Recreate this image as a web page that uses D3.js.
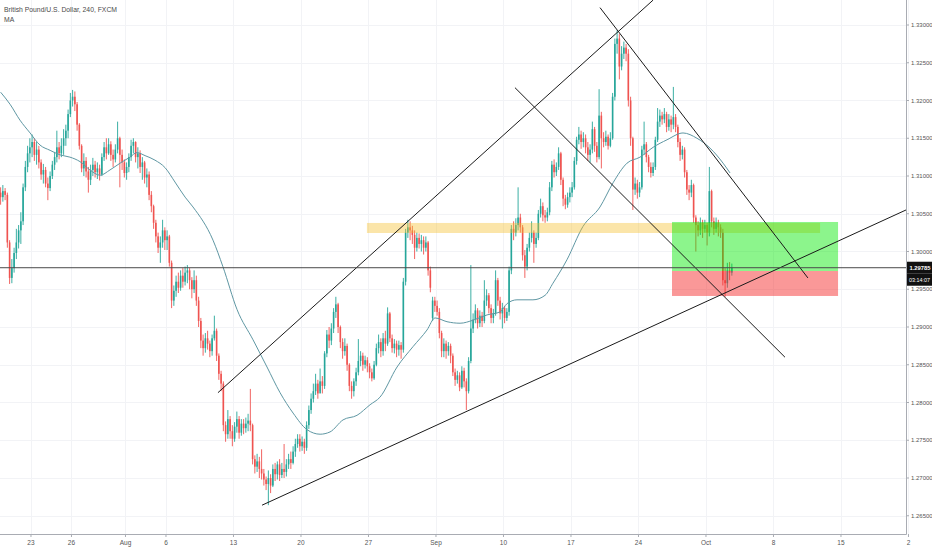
<!DOCTYPE html>
<html>
<head>
<meta charset="utf-8">
<script src="https://cdn.jsdelivr.net/npm/d3@7"></script>
<style>
  html, body { margin: 0; padding: 0; background: #fff; }
  svg { display: block; font-family: "Liberation Sans", Arial, sans-serif; }
</style>
</head>
<body>
<svg id="chart" width="932" height="550"></svg>
<script>
// GBP/USD 4h candles (bar 0 = Thu 19 Jul, 6 bars a day)
const firstOpen = 1.3078;
const closes = [
  1.3072, 1.3080, 1.3075, 1.3012, 1.2965, 1.2978, 1.2998, 1.3012, 1.3028, 1.3040, // 0
  1.3085, 1.3112, 1.3130, 1.3138, 1.3145, 1.3128, 1.3135, 1.3118, 1.3102, 1.3108, // 10
  1.3090, 1.3084, 1.3100, 1.3115, 1.3125, 1.3138, 1.3130, 1.3140, 1.3150, 1.3160, // 20
  1.3182, 1.3200, 1.3205, 1.3195, 1.3168, 1.3140, 1.3110, 1.3120, 1.3106, 1.3095, // 30
  1.3108, 1.3115, 1.3105, 1.3110, 1.3102, 1.3125, 1.3138, 1.3130, 1.3142, 1.3128, // 40
  1.3122, 1.3135, 1.3150, 1.3128, 1.3118, 1.3104, 1.3112, 1.3125, 1.3140, 1.3145, // 50
  1.3125, 1.3130, 1.3112, 1.3118, 1.3098, 1.3102, 1.3075, 1.3060, 1.3038, 1.3020, // 60
  1.3005, 1.3012, 1.3028, 1.3015, 1.3020, 1.2985, 1.2935, 1.2948, 1.2960, 1.2952, // 70
  1.2968, 1.2960, 1.2972, 1.2975, 1.2962, 1.2950, 1.2962, 1.2935, 1.2908, 1.2882, // 80
  1.2872, 1.2885, 1.2878, 1.2868, 1.2885, 1.2895, 1.2862, 1.2838, 1.2825, 1.2770, // 90
  1.2758, 1.2778, 1.2762, 1.2752, 1.2768, 1.2778, 1.2760, 1.2772, 1.2766, 1.2772, // 100
  1.2776, 1.2770, 1.2725, 1.2715, 1.2722, 1.2712, 1.2706, 1.2698, 1.2692, 1.2700, // 110
  1.2690, 1.2712, 1.2705, 1.2718, 1.2704, 1.2712, 1.2708, 1.2718, 1.2725, 1.2720, // 120
  1.2735, 1.2745, 1.2752, 1.2742, 1.2748, 1.2740, 1.2770, 1.2790, 1.2805, 1.2815, // 130
  1.2825, 1.2812, 1.2828, 1.2822, 1.2865, 1.2890, 1.2882, 1.2898, 1.2920, 1.2930, // 140
  1.2900, 1.2880, 1.2868, 1.2875, 1.2850, 1.2822, 1.2815, 1.2828, 1.2840, 1.2855, // 150
  1.2862, 1.2850, 1.2856, 1.2848, 1.2840, 1.2832, 1.2850, 1.2872, 1.2880, 1.2868, // 160
  1.2885, 1.2878, 1.2918, 1.2885, 1.2872, 1.2878, 1.2870, 1.2876, 1.2870, 1.2960, // 170
  1.3025, 1.3032, 1.3028, 1.3022, 1.3005, 1.3018, 1.3010, 1.3015, 1.3005, 1.3012, // 180
  1.2975, 1.2952, 1.2935, 1.2928, 1.2920, 1.2892, 1.2868, 1.2878, 1.2868, 1.2875, // 190
  1.2862, 1.2840, 1.2830, 1.2836, 1.2820, 1.2842, 1.2828, 1.2815, 1.2855, 1.2898, // 200
  1.2910, 1.2922, 1.2905, 1.2915, 1.2908, 1.2935, 1.2942, 1.2925, 1.2912, 1.2918, // 210
  1.2962, 1.2935, 1.2918, 1.2925, 1.2912, 1.2920, 1.2975, 1.3030, 1.3025, 1.3035, // 220
  1.3045, 1.3032, 1.2995, 1.2980, 1.3005, 1.3018, 1.3025, 1.3010, 1.3018, 1.3050, // 230
  1.3060, 1.3048, 1.3045, 1.3052, 1.3085, 1.3115, 1.3105, 1.3112, 1.3130, 1.3095, // 240
  1.3070, 1.3062, 1.3072, 1.3078, 1.3085, 1.3120, 1.3148, 1.3155, 1.3145, 1.3150, // 250
  1.3138, 1.3128, 1.3135, 1.3162, 1.3140, 1.3125, 1.3180, 1.3150, 1.3145, 1.3152, // 260
  1.3140, 1.3150, 1.3205, 1.3275, 1.3282, 1.3245, 1.3262, 1.3270, 1.3262, 1.3200, // 270
  1.3150, 1.3082, 1.3090, 1.3078, 1.3085, 1.3135, 1.3142, 1.3125, 1.3112, 1.3104, // 280
  1.3112, 1.3148, 1.3172, 1.3180, 1.3175, 1.3182, 1.3165, 1.3175, 1.3168, 1.3178, // 290
  1.3165, 1.3145, 1.3128, 1.3135, 1.3105, 1.3082, 1.3078, 1.3088, 1.3045, 1.3035, // 300
  1.3028, 1.3038, 1.3030, 1.3035, 1.3025, 1.3080, 1.3040, 1.3030, 1.3038, 1.3032, // 310
  1.3025, 1.2962, 1.2958, 1.2975, 1.2972, 1.29785                                 // 320
];
const highs = [
  1.3085, 1.3088, 1.3084, 1.3078, 1.3015, 1.2990, 1.3005, 1.3030, 1.3035, 1.3052,
  1.3090, 1.3120, 1.3140, 1.3150, 1.3155, 1.3150, 1.3145, 1.3140, 1.3122, 1.3116,
  1.3112, 1.3098, 1.3106, 1.3120, 1.3132, 1.3160, 1.3145, 1.3150, 1.3162, 1.3168,
  1.3188, 1.3210, 1.3214, 1.3212, 1.3198, 1.3170, 1.3142, 1.3130, 1.3125, 1.3112,
  1.3115, 1.3124, 1.3120, 1.3118, 1.3115, 1.3130, 1.3145, 1.3150, 1.3150, 1.3146,
  1.3135, 1.3142, 1.3172, 1.3152, 1.3135, 1.3122, 1.3118, 1.3130, 1.3148, 1.3150,
  1.3146, 1.3138, 1.3134, 1.3125, 1.3120, 1.3110, 1.3106, 1.3080, 1.3062, 1.3042,
  1.3025, 1.3020, 1.3042, 1.3032, 1.3028, 1.3022, 1.2988, 1.2955, 1.2968, 1.2972,
  1.2975, 1.2978, 1.2980, 1.2982, 1.2978, 1.2966, 1.2975, 1.2968, 1.2940, 1.2912,
  1.2890, 1.2892, 1.2895, 1.2882, 1.2890, 1.2915, 1.2898, 1.2865, 1.2842, 1.2828,
  1.2775, 1.2790, 1.2782, 1.2770, 1.2774, 1.2788, 1.2782, 1.2778, 1.2778, 1.2780,
  1.2785, 1.2818, 1.2772, 1.2730, 1.2732, 1.2728, 1.2738, 1.2712, 1.2702, 1.2710,
  1.2705, 1.2718, 1.2720, 1.2722, 1.2725, 1.2720, 1.2745, 1.2725, 1.2732, 1.2735,
  1.2742, 1.2752, 1.2758, 1.2758, 1.2755, 1.2752, 1.2775, 1.2796, 1.2812, 1.2825,
  1.2838, 1.2830, 1.2845, 1.2835, 1.2868, 1.2896, 1.2900, 1.2905, 1.2925, 1.2940,
  1.2932, 1.2902, 1.2885, 1.2885, 1.2878, 1.2852, 1.2828, 1.2832, 1.2846, 1.2884,
  1.2868, 1.2866, 1.2862, 1.2860, 1.2852, 1.2845, 1.2855, 1.2878, 1.2890, 1.2885,
  1.2892, 1.2895, 1.2926, 1.2920, 1.2890, 1.2884, 1.2882, 1.2882, 1.2880, 1.2965,
  1.3030, 1.3042, 1.3040, 1.3034, 1.3028, 1.3025, 1.3024, 1.3022, 1.3020, 1.3020,
  1.3014, 1.2980, 1.2940, 1.2940, 1.2935, 1.2925, 1.2895, 1.2885, 1.2882, 1.2880,
  1.2878, 1.2865, 1.2845, 1.2842, 1.2840, 1.2848, 1.2846, 1.2832, 1.2860, 1.2982,
  1.2918, 1.2930, 1.2925, 1.2922, 1.2920, 1.2962, 1.2950, 1.2945, 1.2930, 1.2924,
  1.2975, 1.2965, 1.2940, 1.2932, 1.2928, 1.2925, 1.2980, 1.3035, 1.3040, 1.3044,
  1.3085, 1.3050, 1.3035, 1.3002, 1.3010, 1.3025, 1.3040, 1.3028, 1.3025, 1.3055,
  1.3070, 1.3065, 1.3055, 1.3058, 1.3092, 1.3120, 1.3122, 1.3118, 1.3138, 1.3132,
  1.3098, 1.3075, 1.3078, 1.3085, 1.3092, 1.3125, 1.3152, 1.3165, 1.3160, 1.3158,
  1.3155, 1.3145, 1.3142, 1.3172, 1.3165, 1.3145, 1.3215, 1.3185, 1.3158, 1.3160,
  1.3155, 1.3158, 1.3210, 1.3282, 1.3293, 1.3288, 1.3272, 1.3278, 1.3275, 1.3268,
  1.3205, 1.3152, 1.3098, 1.3095, 1.3092, 1.3140, 1.3172, 1.3145, 1.3128, 1.3118,
  1.3118, 1.3152, 1.3190, 1.3188, 1.3185, 1.3190, 1.3185, 1.3182, 1.3180, 1.3218,
  1.3182, 1.3168, 1.3150, 1.3140, 1.3138, 1.3108, 1.3088, 1.3095, 1.3090, 1.3048,
  1.3040, 1.3045, 1.3042, 1.3042, 1.3038, 1.3112, 1.3082, 1.3045, 1.3045, 1.3042,
  1.3036, 1.3030, 1.2978, 1.2985, 1.2986, 1.2984
];
const lows = [
  1.3062, 1.3066, 1.3068, 1.3005, 1.2957, 1.2958, 1.2972, 1.2990, 1.3004, 1.3010,
  1.3035, 1.3080, 1.3105, 1.3118, 1.3125, 1.3120, 1.3115, 1.3110, 1.3095, 1.3090,
  1.3085, 1.3068, 1.3080, 1.3096, 1.3108, 1.3118, 1.3122, 1.3125, 1.3128, 1.3140,
  1.3150, 1.3178, 1.3192, 1.3186, 1.3160, 1.3135, 1.3105, 1.3100, 1.3098, 1.3078,
  1.3088, 1.3100, 1.3098, 1.3096, 1.3094, 1.3100, 1.3120, 1.3122, 1.3128, 1.3120,
  1.3112, 1.3118, 1.3130, 1.3085, 1.3108, 1.3098, 1.3095, 1.3105, 1.3120, 1.3130,
  1.3118, 1.3110, 1.3104, 1.3095, 1.3090, 1.3085, 1.3068, 1.3052, 1.3030, 1.3012,
  1.2998, 1.2985, 1.3005, 1.3002, 1.3002, 1.2980, 1.2925, 1.2928, 1.2940, 1.2945,
  1.2948, 1.2952, 1.2955, 1.2958, 1.2950, 1.2938, 1.2945, 1.2928, 1.2900, 1.2872,
  1.2862, 1.2866, 1.2870, 1.2860, 1.2862, 1.2882, 1.2855, 1.2830, 1.2815, 1.2762,
  1.2748, 1.2752, 1.2752, 1.2742, 1.2748, 1.2760, 1.2752, 1.2756, 1.2758, 1.2760,
  1.2762, 1.2762, 1.2718, 1.2706, 1.2708, 1.2700, 1.2698, 1.2690, 1.2684, 1.2664,
  1.2680, 1.2688, 1.2696, 1.2698, 1.2696, 1.2700, 1.2700, 1.2702, 1.2712, 1.2712,
  1.2718, 1.2728, 1.2740, 1.2735, 1.2736, 1.2732, 1.2736, 1.2765, 1.2785, 1.2800,
  1.2810, 1.2805, 1.2815, 1.2812, 1.2818, 1.2860, 1.2872, 1.2876, 1.2892, 1.2912,
  1.2892, 1.2872, 1.2858, 1.2862, 1.2842, 1.2815, 1.2805, 1.2808, 1.2822, 1.2836,
  1.2848, 1.2842, 1.2845, 1.2840, 1.2832, 1.2828, 1.2830, 1.2848, 1.2865, 1.2860,
  1.2862, 1.2868, 1.2875, 1.2880, 1.2866, 1.2865, 1.2860, 1.2862, 1.2858, 1.2866,
  1.2955, 1.3018, 1.3015, 1.3010, 1.2990, 1.3000, 1.3004, 1.3000, 1.2996, 1.3000,
  1.2968, 1.2946, 1.2908, 1.2920, 1.2915, 1.2885, 1.2860, 1.2860, 1.2858, 1.2862,
  1.2852, 1.2835, 1.2822, 1.2825, 1.2815, 1.2818, 1.2820, 1.2790, 1.2812, 1.2852,
  1.2892, 1.2905, 1.2898, 1.2900, 1.2900, 1.2905, 1.2928, 1.2918, 1.2905, 1.2905,
  1.2915, 1.2928, 1.2910, 1.2898, 1.2905, 1.2908, 1.2915, 1.2970, 1.3015, 1.3020,
  1.3028, 1.3025, 1.2988, 1.2965, 1.2975, 1.3000, 1.3012, 1.2985, 1.3005, 1.3015,
  1.3045, 1.3040, 1.3038, 1.3040, 1.3048, 1.3080, 1.3098, 1.3100, 1.3108, 1.3088,
  1.3060, 1.3056, 1.3058, 1.3065, 1.3072, 1.3082, 1.3115, 1.3142, 1.3136, 1.3138,
  1.3130, 1.3120, 1.3118, 1.3130, 1.3132, 1.3118, 1.3122, 1.3110, 1.3138, 1.3140,
  1.3135, 1.3138, 1.3148, 1.3200, 1.3262, 1.3228, 1.3240, 1.3255, 1.3252, 1.3192,
  1.3140, 1.3055, 1.3075, 1.3070, 1.3072, 1.3082, 1.3128, 1.3118, 1.3105, 1.3098,
  1.3100, 1.3108, 1.3145, 1.3165, 1.3168, 1.3170, 1.3158, 1.3160, 1.3158, 1.3162,
  1.3158, 1.3138, 1.3120, 1.3122, 1.3098, 1.3075, 1.3068, 1.3072, 1.3038, 1.3000,
  1.3020, 1.3022, 1.3018, 1.3025, 1.3008, 1.3020, 1.3032, 1.3022, 1.3025, 1.3020,
  1.3018, 1.2955, 1.2940, 1.2952, 1.2962, 1.2968
];
// Monday opens that gap away from Friday's close: [bar, open]
const weekendGaps = [[192, 1.2912]];

// MA line: bar position and value
const maBars = [0, 4.2, 8.6, 13.1, 17.5, 22, 26.4, 30.8, 35.3, 39.7, 44.2, 48.6, 53.1, 57.5, 60.6,
  64.2, 68.6, 73.1, 77.5, 82, 85.5, 94.4, 98.8, 105.1, 112.2, 118.4, 124.2, 130, 136.2, 142,
  146.4, 152.2, 158.4, 164.2, 168.6, 176.2, 183.3, 189.5, 193.1, 198.4, 204.2, 210, 216.2, 222,
  225.1, 229.5, 236.6, 242, 245.5, 251.7, 258.8, 266.4, 272.2, 278.4, 284.2, 290, 296.2, 303.3,
  309.5, 315.3, 321.1, 324.2];
const maValues = [1.3211, 1.3195, 1.3174, 1.3157, 1.3141, 1.3134, 1.3128, 1.3125, 1.3119, 1.3108,
  1.3101, 1.3108, 1.3117, 1.3125, 1.3131, 1.3127, 1.3121, 1.3111, 1.3092, 1.3072, 1.3059, 1.3015,
  1.2980, 1.2923, 1.2883, 1.2847, 1.2813, 1.2786, 1.2764, 1.2758, 1.2761, 1.2777, 1.2783, 1.2797,
  1.2807, 1.2847, 1.2874, 1.2896, 1.2912, 1.2907, 1.2905, 1.2909, 1.2916, 1.2920, 1.2931, 1.2936,
  1.2936, 1.2942, 1.2958, 1.2989, 1.3033, 1.3059, 1.3091, 1.3117, 1.3125, 1.3138, 1.3148, 1.3157,
  1.3150, 1.3137, 1.3117, 1.3104];

// axis labels
const priceTicks = [1.265, 1.27, 1.275, 1.28, 1.285, 1.29, 1.295, 1.30, 1.305, 1.31, 1.315, 1.32, 1.325, 1.33];
const dayLabels = ["23", "26", "Aug", "6", "13", "20", "27", "Sep", "10", "17", "24", "Oct", "8", "15", "2"];
const dayOffsets = [0, 3, 7, 10, 15, 20, 25, 30, 35, 40, 45, 50, 55, 60, 65]; // trading days after 23 Jul
const firstDayBar = 13.5;
const barsPerDay = 6;

// drawings: [bar, price] anchors
const trendLines = [
  [[96.6, 1.2813], [290, 1.3333]],
  [[116.2, 1.2664], [402.4, 1.3055]],
  [[228.6, 1.3217], [348.6, 1.2860]],
  [[266.4, 1.3323], [358.8, 1.2965]]
];
const zoneBars = [162.8, 364.2];
const zonePrices = [1.30245, 1.30378];
const positionBars = [298.4, 372.2];
const positionEntry = 1.29742;
const positionTarget = 1.30391;
const positionStop = 1.29411;
const countdown = "03:14:07";

const PLOT_W = 906;
const PLOT_H = 534;
const UP = "#26a69a";
const DOWN = "#ef5350";

const svg = d3.select("#chart");
const x = d3.scaleLinear().domain([-0.27, 402.4]).range([0, PLOT_W]);
const y = d3.scaleLinear().domain([1.265, 1.33]).range([515.75, 25]);

const gaps = new Map(weekendGaps);
const bars = closes.map((c, i) => ({
  i,
  o: gaps.has(i) ? gaps.get(i) : (i === 0 ? firstOpen : closes[i - 1]),
  h: highs[i],
  l: lows[i],
  c
}));

svg.append("defs").append("clipPath").attr("id", "plot")
  .append("rect").attr("width", PLOT_W).attr("height", PLOT_H);

// grid
const grid = svg.append("g").attr("stroke", "#f2f3f6").attr("stroke-width", 1);
grid.selectAll("line.h").data(priceTicks).join("line")
  .attr("x1", 0).attr("x2", PLOT_W)
  .attr("y1", d => Math.round(y(d)) + 0.5).attr("y2", d => Math.round(y(d)) + 0.5);
grid.selectAll("line.v").data(dayOffsets).join("line")
  .attr("y1", 0).attr("y2", PLOT_H)
  .attr("x1", d => Math.round(x(firstDayBar + d * barsPerDay)) + 0.5)
  .attr("x2", d => Math.round(x(firstDayBar + d * barsPerDay)) + 0.5);

const plot = svg.append("g").attr("clip-path", "url(#plot)");

// candles
const bodyW = 1.6;
const candles = plot.append("g").selectAll("g").data(bars).join("g")
  .attr("fill", d => d.c >= d.o ? UP : DOWN)
  .attr("stroke", d => d.c >= d.o ? UP : DOWN);
candles.append("line")
  .attr("x1", d => x(d.i)).attr("x2", d => x(d.i))
  .attr("y1", d => y(d.h)).attr("y2", d => y(d.l))
  .attr("stroke-width", 0.9);
candles.append("rect")
  .attr("stroke", "none")
  .attr("x", d => x(d.i) - bodyW / 2)
  .attr("width", bodyW)
  .attr("y", d => y(Math.max(d.o, d.c)))
  .attr("height", d => Math.max(0.8, Math.abs(y(d.o) - y(d.c))));

// moving average
plot.append("path")
  .datum(d3.zip(maBars, maValues))
  .attr("fill", "none")
  .attr("stroke", "#5f97a3")
  .attr("stroke-width", 1)
  .attr("d", d3.line().x(d => x(d[0])).y(d => y(d[1])).curve(d3.curveMonotoneX));

// yellow resistance zone
plot.append("rect")
  .attr("x", x(zoneBars[0])).attr("width", x(zoneBars[1]) - x(zoneBars[0]))
  .attr("y", y(zonePrices[1])).attr("height", y(zonePrices[0]) - y(zonePrices[1]))
  .attr("fill", "rgba(245,190,40,0.4)");

// long position tool
plot.append("rect")
  .attr("x", x(positionBars[0])).attr("width", x(positionBars[1]) - x(positionBars[0]))
  .attr("y", y(positionTarget)).attr("height", y(positionEntry) - y(positionTarget))
  .attr("fill", "rgba(0,232,0,0.45)");
plot.append("rect")
  .attr("x", x(positionBars[0])).attr("width", x(positionBars[1]) - x(positionBars[0]))
  .attr("y", y(positionEntry)).attr("height", y(positionStop) - y(positionEntry))
  .attr("fill", "rgba(245,40,40,0.48)");

// trend lines
plot.append("g").selectAll("line").data(trendLines).join("line")
  .attr("x1", d => x(d[0][0])).attr("y1", d => y(d[0][1]))
  .attr("x2", d => x(d[1][0])).attr("y2", d => y(d[1][1]))
  .attr("stroke", "#1a1a1a").attr("stroke-width", 1);

// horizontal line at last price
const last = closes[closes.length - 1];
plot.append("line")
  .attr("x1", 0).attr("x2", PLOT_W)
  .attr("y1", y(last)).attr("y2", y(last))
  .attr("stroke", "#4a4a4a").attr("stroke-width", 1);

// axes
const axisColor = "#a9acb3";
svg.append("line").attr("x1", PLOT_W + 0.5).attr("x2", PLOT_W + 0.5).attr("y1", 0).attr("y2", PLOT_H + 0.5)
  .attr("stroke", axisColor);
svg.append("line").attr("x1", 0).attr("x2", PLOT_W + 0.5).attr("y1", PLOT_H + 0.5).attr("y2", PLOT_H + 0.5)
  .attr("stroke", axisColor);

const yTicks = svg.append("g").selectAll("g").data(priceTicks).join("g")
  .attr("transform", d => `translate(${PLOT_W},${y(d)})`);
yTicks.append("line").attr("x1", 0).attr("x2", 3).attr("stroke", axisColor);
yTicks.append("text").attr("x", 5).attr("dy", "0.35em")
  .attr("font-size", 6).attr("fill", "#555")
  .text(d => d.toFixed(5));

const xTicks = svg.append("g").selectAll("g").data(dayOffsets).join("g")
  .attr("transform", d => `translate(${x(firstDayBar + d * barsPerDay)},${PLOT_H})`);
xTicks.append("line").attr("y1", 0).attr("y2", 3).attr("stroke", axisColor);
xTicks.append("text").attr("y", 10.5).attr("text-anchor", "middle")
  .attr("font-size", 6.5).attr("fill", "#555")
  .text((d, i) => dayLabels[i]);

// last price label and countdown
const ly = y(last);
svg.append("rect").attr("x", PLOT_W + 1).attr("y", ly - 6).attr("width", 26).attr("height", 12).attr("fill", "#111");
svg.append("text").attr("x", PLOT_W + 3.5).attr("y", ly).attr("dy", "0.35em")
  .attr("font-size", 5.8).attr("font-weight", "bold").attr("fill", "#fff").text(last.toFixed(5));
svg.append("rect").attr("x", PLOT_W + 1).attr("y", ly + 6).attr("width", 26).attr("height", 12).attr("fill", "#111");
svg.append("text").attr("x", PLOT_W + 3).attr("y", ly + 12).attr("dy", "0.35em")
  .attr("font-size", 5.4).attr("fill", "#fff").text(countdown);

// legend
svg.append("text").attr("x", 4).attr("y", 12).attr("font-size", 6.8).attr("fill", "#4a4a4a")
  .text("British Pound/U.S. Dollar, 240, FXCM");
svg.append("text").attr("x", 4).attr("y", 22).attr("font-size", 6.8).attr("fill", "#4a4a4a")
  .text("MA");
</script>
</body>
</html>
